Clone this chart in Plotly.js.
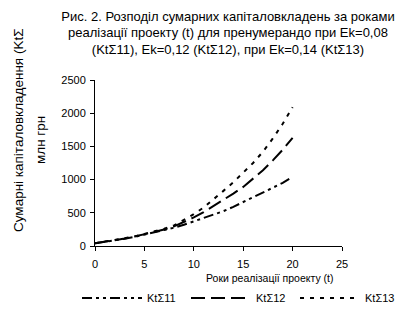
<!DOCTYPE html>
<html>
<head>
<meta charset="utf-8">
<script src="https://cdn.plot.ly/plotly-3.0.1.min.js"></script>
<style>html,body{margin:0;padding:0;background:#fff;}</style>
</head>
<body>
<div id="chart" style="width:399px;height:314px;"></div>
<script>
var years = [0,1,2,3,4,5,6,7,8,9,10,11,12,13,14,15,16,17,18,19,20];
var kt11 = [40,60,85,110,138,170,200,235,275,320,370,420,470,525,590,660,730,800,870,950,1040];
var kt12 = [40,62,87,112,142,175,208,248,295,360,430,510,600,690,790,890,1010,1140,1290,1450,1630];
var kt13 = [40,65,90,115,145,180,215,260,310,390,480,580,700,830,960,1100,1250,1420,1620,1840,2090];
var seriesNames = ["KtΣ11","KtΣ12","KtΣ13"];
var titleText = "Рис. 2. Розподіл сумарних капіталовкладень за роками<br>реалізації проекту (t) для пренумерандо при Ek=0,08<br>(KtΣ11), Ek=0,12 (KtΣ12), при Ek=0,14 (KtΣ13)";
var yTitle1 = "Сумарні капіталовкладення (KtΣ";
var yTitle2 = "млн грн";
var xTitle = "Роки реалізації проекту (t)";

var font = "Liberation Sans, Arial, sans-serif";
var traces = [
  {x: years, y: kt11, name: seriesNames[0], mode: "lines", line: {color: "#000", width: 2, dash: "10px,4px,3px,4px,3px,4px"}},
  {x: years, y: kt12, name: seriesNames[1], mode: "lines", line: {color: "#000", width: 2, dash: "14px,6px"}},
  {x: years, y: kt13, name: seriesNames[2], mode: "lines", line: {color: "#000", width: 2, dash: "4px,6px"}}
];
var layout = {
  width: 399, height: 314,
  margin: {l: 95, r: 57, t: 80, b: 68, autoexpand: false},
  paper_bgcolor: "#fff", plot_bgcolor: "#fff",
  font: {family: font, size: 11, color: "#000"},
  title: {text: titleText, font: {family: font, size: 13, color: "#000"},
          xref: "container", x: 228/399, xanchor: "center",
          yref: "container", y: 1 - 20.5/314, yanchor: "top"},
  xaxis: {range: [0, 25], dtick: 5, tick0: 0, ticks: "outside", ticklen: 4, tickcolor: "#000",
          showline: true, linecolor: "#000", linewidth: 1, showgrid: false, zeroline: false,
          tickfont: {size: 11}, ticklabelstandoff: 4},
  yaxis: {range: [0, 2500], dtick: 500, tick0: 0, ticks: "outside", ticklen: 4, tickcolor: "#000",
          showline: true, linecolor: "#000", linewidth: 1, showgrid: false, zeroline: false,
          tickfont: {size: 11}, ticklabelstandoff: 2},
  showlegend: true,
  legend: {orientation: "h", x: (77-95)/247, xanchor: "left", y: (246-298)/166, yanchor: "middle",
           font: {size: 11}, bgcolor: "rgba(0,0,0,0)", itemwidth: 60, entrywidth: 34},
  annotations: [
    {text: yTitle1, textangle: -90, xref: "paper", yref: "paper", x: (18-95)/247, y: (246-130)/166,
     xanchor: "center", yanchor: "middle", showarrow: false, font: {size: 13.5}},
    {text: yTitle2, textangle: -90, xref: "paper", yref: "paper", x: (40-95)/247, y: (246-140)/166,
     xanchor: "center", yanchor: "middle", showarrow: false, font: {size: 13.5}},
    {text: xTitle, xref: "paper", yref: "paper", x: (270-95)/247, y: (246-278)/166,
     xanchor: "center", yanchor: "middle", showarrow: false, font: {size: 10.5}}
  ]
};
Plotly.newPlot("chart", traces, layout, {displayModeBar: false, staticPlot: true});
</script>
</body>
</html>
